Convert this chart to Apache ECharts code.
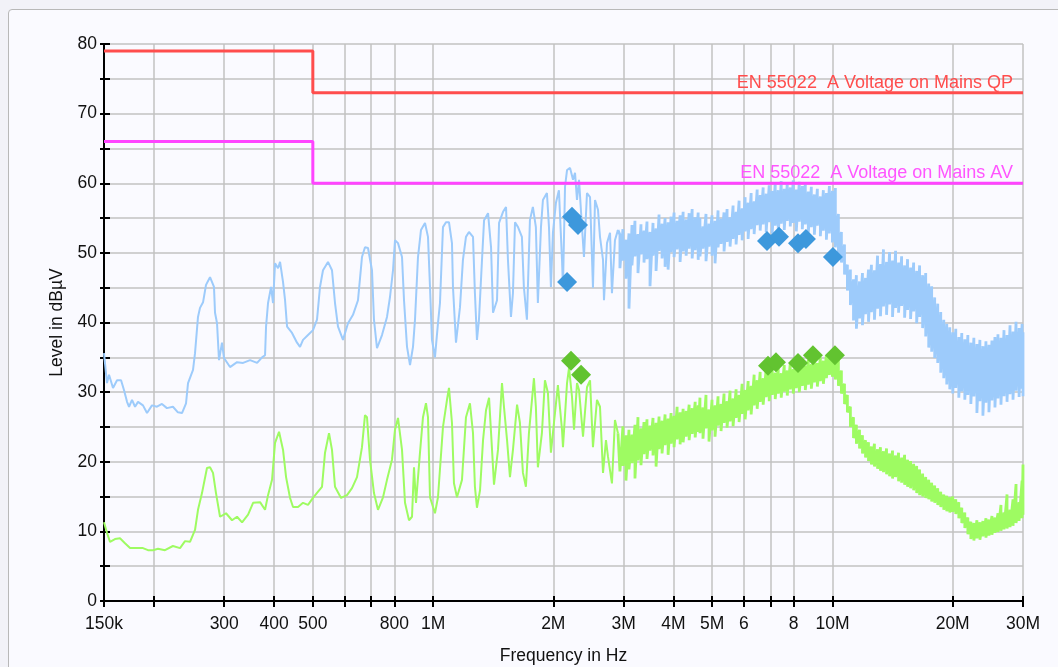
<!DOCTYPE html>
<html><head><meta charset="utf-8">
<script src="https://cdn.jsdelivr.net/npm/echarts@6/dist/echarts.min.js"></script>
<style>
html,body{margin:0;padding:0;width:1058px;height:667px;overflow:hidden;background:#f2f2f8;}
#panel{position:absolute;left:8px;top:9px;width:1100px;height:700px;background:#fafaff;border:1px solid #b8b8b8;border-radius:4px;}
#chart{position:absolute;left:0;top:0;width:1058px;height:667px;}
</style></head><body><div id="panel"></div><div id="chart"></div>
<script>
// ---- data (frequency in kHz, level in dBµV) ----
const peakFreq = [150,152.6,154.4,158,161.7,165.5,168.3,171.3,173.3,176.3,
179.4,182.5,187.8,192.2,197.8,203.6,209.5,215.6,223.2,229.7,
235.2,240.7,243.5,250.6,253.5,257.9,260.9,265.5,270.1,276.4,
282.8,284.5,287.8,291.1,296.2,299.6,310.2,323,334.5,348.2,
362.6,373.1,379.6,381.8,386.2,393,397.5,402.1,409.1,413.9,
421.1,426,431,443.5,456.5,464.4,472.5,486.3,500.5,512.2,
521.1,530.2,545.7,558.4,568.2,578.1,595,612.4,630.3,648.7,
663.8,675.4,687.2,703.2,711.3,723.8,745,766.8,780.3,793.8,
803,817,836.1,845.8,860.6,875.6,890.8,901.1,916.8,932.8,
954.6,971.2,982.5,993.8,1011,1028.8,1040.7,1058.9,1077.3,1096.2,
1115.2,1121.7,1141.3,1168,1188,1209,1230,1259,1273,1288,
1303,1326,1342,1373,1397,1413,1446,1463,1497,1523,
1540,1567,1585,1604,1632,1669,1688,1718,1748,1778,
1809,1830,1863,1884,1928,1951,1973,1996,2031,2066,
2103,2115,2140,2165,2203,2241,2267,2293,2320,2360,
2387,2429,2472,2514,2544,2588,2618,2664,2679,2726,
2774,2805,2854,2904];
const peakLevel = [35.6,31.3,32.5,30.6,31.7,31.7,30.3,28.6,27.9,28.9,
27.9,28.6,28.1,27.0,28.1,27.9,28.3,27.7,27.9,27.1,
27.0,28.4,31.3,33.2,35.6,40.8,42.1,42.9,45.4,46.5,
45.1,41.4,39.9,34.6,37.1,34.9,33.6,34.3,34.2,34.6,
34.2,35.0,35.3,39.4,42.8,45.1,42.8,48.5,47.8,48.7,
45.8,43.2,39.4,38.5,37.1,36.5,37.5,38.2,38.9,40.4,
45.1,47.5,48.7,47.5,42.8,39.4,37.5,39.9,41.1,43.2,
49.4,50.8,50.7,47.5,40.4,36.3,38.2,40.8,43.7,47.5,
51.8,51.4,49.4,43.2,36.5,33.9,36.5,40.4,49.4,53.3,
54.3,52.3,45.1,37.5,35.0,39.9,42.8,53.7,54.4,54.4,
51.4,45.1,37.1,42.2,49.0,52.3,53.0,52.3,44.2,37.5,
40.4,49.0,54.7,55.7,50.8,41.4,43.2,54.3,55.9,56.6,
49.0,40.8,44.2,54.4,53.7,52.3,45.1,40.4,54.7,56.6,
53.7,42.8,53.7,57.6,58.6,53.7,45.1,52.9,57.2,59.0,
49.0,45.1,59.5,61.9,62.2,60.5,61.5,57.6,60.5,53.7,
49.4,58.6,58.0,45.0,57.6,56.2,52.3,49.0,43.2,51.4,
52.9,44.2,51.8,53.3];

const avgFreq = [150,152.6,155.3,159.8,164.5,169.3,174.3,181.4,187.8,193.3,
199.0,204.8,213.2,223.2,232.5,239.3,246.3,253.5,257.9,263.9,
271.6,276.4,281.2,286.1,292.8,303.1,313.8,323.0,332.5,344.2,
354.3,368.8,379.6,386.2,395.2,402.1,411.5,421.1,428.5,438.5,
446.1,459.1,472.5,486.3,500.5,515.2,527.1,536.4,548.9,558.4,
568.2,588.2,608.9,626.7,645.0,663.8,675.4,683.2,695.2,711.3,
727.9,749.4,766.8,789.2,803.0,817.0,836.1,850.7,870.5,885.7,
895.9,906.3,927.4,943.6,960.0,971.2,982.5,1011,1028.8,1058.9,
1083.6,1096.2,1115.2,1128.1,1147.9,1181.5,1209,1237,1259,1273,
1288,1311,1334,1357,1381,1405,1421,1454,1488,1505,
1532,1558,1585,1623,1650,1679,1708,1738,1789,1809,
1830,1873,1906,1939,1973,2008,2054,2103,2115,2165,
2190,2228,2254,2293,2320,2374,2429,2472,2514,2573,
2618,2664,2710,2742,2805,2854,2904];
const avgLevel = [11.3,9.8,8.5,8.9,9.0,8.3,7.6,7.6,7.6,7.3,
7.3,7.5,7.3,7.9,7.6,8.6,8.5,10.2,13.1,15.5,
19.1,19.2,18.4,15.5,12.1,12.6,11.6,12.1,11.3,12.4,
14.1,14.2,13.1,15.2,17.4,22.7,24.3,21.7,17.8,14.8,
13.5,13.5,14.1,13.8,14.8,15.7,16.4,21.3,24.1,21.7,
16.4,14.8,15.2,16.2,17.8,22.1,26.7,26.4,20.3,15.5,
13.1,14.9,17.4,20.3,24.6,26.3,21.7,14.1,11.6,12.1,
19.2,14.1,21.3,26.4,28.4,26.4,14.9,12.6,14.9,25.0,
28.9,30.6,25.6,16.9,14.9,17.4,26.4,28.4,24.1,16.4,
13.4,15.9,23.1,27.4,29.2,21.7,16.7,21.7,31.3,27.9,
23.1,17.8,21.7,28.2,25.6,18.4,16.4,24.1,32.0,27.9,
19.2,24.1,31.7,29.9,21.3,25.6,31.0,24.6,22.1,31.3,
33.5,29.3,24.6,31.3,30.3,23.6,30.7,31.7,22.1,28.9,
27.9,18.4,23.1,20.7,16.9,26.0,24.1];

// dense part of the scan: max / min of each frequency bin
const bandFreq = [2937,2988,3041,3094,3148,3203,3259,3316,3374,3433,
3493,3554,3617,3680,3744,3810,3877,3944,4013,4084,
4155,4228,4302,4377,4454,4532,4611,
4659,4741,4824,4908,4994,5082,5171,5261,5353,5447,
5542,5639,5738,5838,5941,6045,6150,6258,6367,6479,
6592,6707,6825,6944,7066,7190,7315,7443,7574,7706,
7841,7978,8118,8260,8405,8552,8701,8854,9009,9166,
9327,9490,9656,9825,9997,10170,10350,10530,10720,10900,
11090,11290,11480,11690,11890,12100,12310,12520,12740,12970,
13190,13420,13660,13900,14140,14390,14640,14900,15160,15420,
15690,15970,16250,16530,16820,17120,17420,17720,18030,18350,
18670,19000,19330,19670,20010,20360,20720,21080,21450,21830,
22210,22600,23000,23400,23810,24230,24650,25080,25520,25970,
26420,26890,27360,27840,28320,28820,29330,29840,30000];
const peakHi = [52.6,53.4,51.9,52.8,54.0,54.6,52.7,54.1,53.2,54.5,
53.0,54.3,53.5,55.5,54.2,55.0,54.4,55.2,55.8,54.6,
55.4,55.9,54.8,55.7,56.3,55.1,55.8,
55.0,53.8,55.6,54.2,55.4,54.6,56.1,54.9,55.8,56.3,
55.1,56.8,55.9,57.5,56.4,58.0,57.2,58.6,57.4,59.1,
58.3,59.4,58.5,59.7,58.9,60.1,59.0,60.3,59.2,60.0,
59.4,60.4,59.1,60.2,59.6,60.0,58.8,59.5,58.4,59.2,
58.1,59.0,58.6,59.6,58.9,59.3,55.6,53.0,51.2,48.3,
47.6,46.2,46.8,45.9,47.1,46.4,47.6,48.3,47.5,49.6,
48.4,50.5,48.7,50.1,48.9,50.3,48.6,49.5,48.2,49.1,
47.9,48.6,47.4,48.2,46.8,47.1,45.6,45.2,43.6,42.7,
41.5,40.4,39.8,39.3,38.6,39.1,37.9,38.5,37.6,38.2,
37.1,37.8,36.9,37.5,36.6,37.3,36.8,37.4,37.9,38.3,
37.8,38.9,38.2,39.6,38.7,40.1,39.2,39.8,38.6];
const peakLo = [47.8,48.9,46.3,42.0,48.2,49.5,47.1,49.8,48.6,49.1,
45.2,49.6,47.4,50.3,49.2,48.0,47.6,50.1,49.4,50.5,
48.7,50.2,49.6,50.6,49.2,50.4,49.0,
49.5,50.6,48.8,50.9,49.6,48.5,50.8,51.3,50.2,51.6,
50.9,52.0,51.2,52.6,51.8,53.1,52.0,53.4,52.7,54.0,
53.2,54.1,53.0,54.4,52.8,53.9,52.5,54.2,53.3,54.6,
53.8,54.3,53.1,54.5,53.4,54.1,52.9,53.7,52.6,53.9,
52.4,53.2,51.9,52.8,51.5,50.8,49.8,48.6,46.9,44.6,
42.5,40.3,39.1,40.6,39.6,41.2,40.1,41.5,40.4,42.0,
40.9,42.3,41.1,42.6,40.8,42.1,41.4,42.4,40.7,41.8,
40.5,41.6,39.9,40.8,39.2,38.0,36.4,35.8,34.9,34.2,
32.8,32.0,31.1,30.4,29.8,30.6,29.2,30.1,28.9,29.6,
28.3,29.4,27.0,28.7,26.6,28.5,27.1,28.8,27.8,29.1,
28.2,29.4,28.6,29.7,28.9,30.2,29.3,30.5,29.4];
const avgHi = [24.2,25.1,23.8,24.6,23.9,25.3,26.4,24.8,25.7,26.1,
25.2,26.3,25.6,26.5,25.9,26.8,26.2,27.0,26.6,27.9,
27.1,27.6,27.3,28.2,27.7,28.6,28.1,
29.2,27.8,29.6,27.5,28.9,28.1,29.4,28.3,29.8,28.7,
30.2,29.1,30.4,29.6,31.2,30.3,31.6,30.9,32.5,31.7,
32.9,32.0,33.4,32.6,33.5,32.8,33.6,32.7,33.9,33.1,
34.1,33.3,34.3,33.6,34.5,33.8,34.6,34.0,34.8,34.2,
35.0,34.5,35.3,35.6,35.2,35.5,34.6,33.1,31.2,29.6,
27.9,26.4,25.3,24.6,23.8,23.1,22.8,22.2,22.6,21.8,
22.1,21.5,21.9,21.2,21.6,20.9,21.3,20.6,21.0,20.3,
20.1,19.7,19.4,18.9,18.3,17.8,17.4,17.0,16.6,16.2,
15.7,15.3,15.1,14.9,15.0,14.6,14.2,13.4,12.7,12.0,
11.4,11.2,11.6,11.3,11.5,11.9,11.7,12.2,12.0,12.6,
13.8,12.7,15.3,13.1,14.6,16.8,14.2,17.3,19.6];
const avgLo = [18.6,19.4,17.3,18.9,19.8,17.6,20.2,19.5,21.1,20.4,
21.6,20.9,19.3,21.8,21.2,22.4,21.0,22.6,22.1,23.2,
22.5,22.8,23.6,23.1,24.0,23.5,24.3,
24.1,23.3,24.8,22.9,24.5,23.6,25.2,24.4,25.6,24.9,
25.8,25.1,26.3,25.7,26.9,26.1,27.4,26.8,28.1,27.6,
28.6,28.2,29.3,28.7,29.6,29.0,29.8,29.2,30.1,29.5,
30.4,29.8,30.6,30.0,30.9,30.3,31.1,30.5,31.4,30.8,
31.6,31.2,32.0,32.5,32.2,31.8,30.9,29.8,28.3,27.1,
25.0,23.4,22.6,21.9,21.2,20.6,20.1,19.6,19.3,19.0,
18.7,18.5,18.2,17.9,17.6,17.8,17.2,17.0,16.7,16.4,
16.2,15.9,15.5,15.2,15.0,14.8,14.6,14.3,14.1,13.8,
13.5,13.1,12.9,12.7,12.8,12.5,11.9,11.2,10.5,9.6,
8.9,8.7,9.0,8.8,9.3,9.1,9.4,9.5,9.8,9.9,
10.1,10.3,10.4,10.6,10.8,11.2,11.5,11.9,12.4];

// final measurements
const qpFreq = [2165,2228,2306,6856,7348,8198,8583,10029];
const qpLevel = [45.8,55.2,54.0,51.7,52.3,51.4,52.0,49.4];
const avFreq = [2215,2347,6896,7221,8198,8936,10145];
const avLevel = [34.5,32.5,33.8,34.3,34.2,35.3,35.3];

// limits
const limitFreq = [150,500,500,30000];
const qpLimit = [79,79,73,73];
const avLimit = [66,66,60,60];
const qpLimitName = 'EN 55022  A Voltage on Mains QP';
const avLimitName = 'EN 55022  A Voltage on Mains AV';

// axis ticks
const xTickValues = [150,200,300,400,500,600,700,800,1000,2000,3000,4000,5000,6000,7000,8000,10000,20000,30000];
const xLabelValues = [150,300,400,500,800,1000,2000,3000,4000,5000,6000,8000,10000,20000,30000];
const xLabelTexts = ['150k','300','400','500','800','1M','2M','3M','4M','5M','6','8','10M','20M','30M'];

// ---- build ----
const lg = Math.log10;
const pts = (fs, vs) => fs.map((f, i) => [lg(f), vs[i]]);
const band = (fs, hi, lo) => { const o = []; fs.forEach((f, i) => { o.push([lg(f), hi[i]]); o.push([lg(f), lo[i]]); }); return o; };
const FONT = 'Liberation Sans, Arial, sans-serif';
const xmin = lg(150), xmax = lg(30000);
const gridColor = '#c2c2c2';

const chart = echarts.init(document.getElementById('chart'), null, {renderer: 'canvas'});
const lineS = (name, data, color, width, z) => ({
  name, type: 'line', data, showSymbol: false, symbol: 'none', sampling: 'none', z,
  lineStyle: {color, width}, itemStyle: {color}, silent: true, animation: false
});
const limitS = (name, vals, color, textColor) => ({
  name, type: 'line', data: pts(limitFreq, vals), showSymbol: false, symbol: 'none', z: 5,
  lineStyle: {color, width: 3}, itemStyle: {color}, silent: true,
  endLabel: {show: true, formatter: name, color: textColor, fontSize: 18, fontFamily: FONT,
    align: 'right', verticalAlign: 'bottom', distance: 0, offset: [-10, -1]}
});
const dotS = (name, data, color) => ({
  name, type: 'scatter', data, symbol: 'diamond', symbolSize: 20, z: 6,
  itemStyle: {color, opacity: 1}, silent: true
});

const peakClean = pts(peakFreq, peakLevel);
const avgClean = pts(avgFreq, avgLevel);
const peakBand = [peakClean[peakClean.length - 1]].concat(band(bandFreq, peakHi, peakLo));
const avgBand = [avgClean[avgClean.length - 1]].concat(band(bandFreq, avgHi, avgLo));

chart.setOption({
  animation: false,
  backgroundColor: 'transparent',
  grid: {left: 104, right: 35, top: 44, bottom: 66, containLabel: false, outerBoundsMode: 'none'},
  xAxis: [{
    type: 'value', min: xmin, max: xmax, position: 'bottom',
    name: 'Frequency in Hz', nameLocation: 'middle', nameGap: 46,
    nameTextStyle: {fontSize: 17.5, fontFamily: FONT, color: '#111'},
    axisLine: {show: true, onZero: false, lineStyle: {color: '#000', width: 2}},
    axisTick: {show: true, inside: false, length: 6, lineStyle: {color: '#000', width: 2}, customValues: xTickValues.map(lg)},
    axisLabel: {customValues: xLabelValues.map(lg), margin: 14, fontSize: 17.5, fontFamily: FONT, color: '#111',
      showMinLabel: true, showMaxLabel: true, hideOverlap: false,
      formatter: v => { const i = xLabelValues.findIndex(f => Math.abs(lg(f) - v) < 1e-6); return i >= 0 ? xLabelTexts[i] : ''; }},
    splitLine: {show: true, lineStyle: {color: gridColor, width: 1.5}}
  }, {
    type: 'value', min: xmin, max: xmax, position: 'bottom',
    axisLine: {show: false},
    axisTick: {show: true, inside: true, length: 5, lineStyle: {color: '#000', width: 2}, customValues: xTickValues.map(lg)},
    axisLabel: {show: false}, splitLine: {show: false}
  }],
  yAxis: [{
    type: 'value', min: 0, max: 80, interval: 5, position: 'left',
    name: 'Level in dBµV', nameLocation: 'middle', nameGap: 37, nameRotate: 90,
    nameTextStyle: {fontSize: 17.5, fontFamily: FONT, color: '#111'},
    axisLine: {show: true, onZero: false, lineStyle: {color: '#000', width: 2}},
    axisTick: {show: true, inside: false, length: 4, lineStyle: {color: '#000', width: 2}},
    axisLabel: {margin: 7, fontSize: 17.5, fontFamily: FONT, color: '#111',
      formatter: v => (v % 10 === 0 ? String(v) : '')},
    splitLine: {show: true, lineStyle: {color: gridColor, width: 1.5}}
  }, {
    type: 'value', min: 0, max: 80, interval: 5, position: 'left',
    axisLine: {show: false},
    axisTick: {show: true, inside: true, length: 6, lineStyle: {color: '#000', width: 2}},
    axisLabel: {show: false}, splitLine: {show: false}
  }],
  series: [
    lineS('Peak', peakClean, '#9dcbfb', 2, 2),
    lineS('Peak scan', peakBand, '#9dcbfb', 2.8, 2),
    lineS('Average', avgClean, '#9efb62', 2, 3),
    lineS('Average scan', avgBand, '#9efb62', 2.8, 3),
    limitS(qpLimitName, qpLimit, '#ff4d4d', '#ff4d4d'),
    limitS(avLimitName, avLimit, '#ff44ff', '#ff55ff'),
    dotS('QP', pts(qpFreq, qpLevel), '#3d98dc'),
    dotS('AV', pts(avFreq, avLevel), '#62c330')
  ]
});
</script></body></html>
